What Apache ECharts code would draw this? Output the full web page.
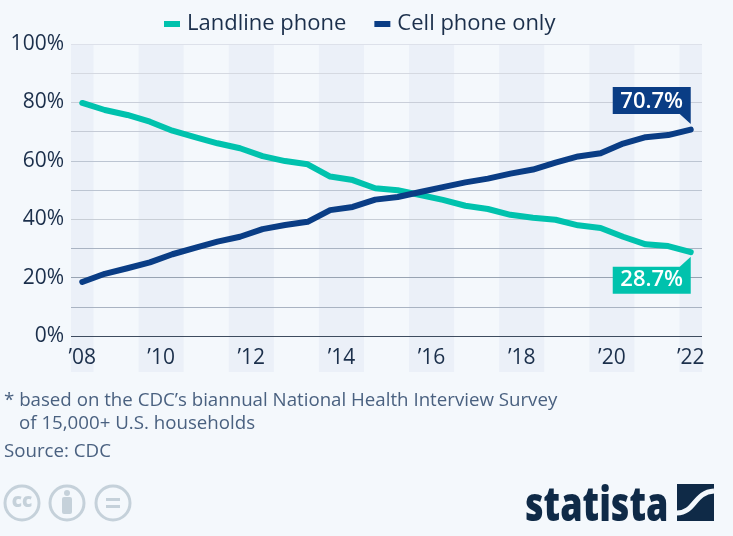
<!DOCTYPE html>
<html>
<head>
<meta charset="utf-8">
<style>
html, body { margin: 0; padding: 0; background: #f4f8fc; }
#chart { width: 733px; height: 536px; }
</style>
<script src="https://cdn.jsdelivr.net/npm/echarts@6/dist/echarts.min.js"></script>
</head>
<body>
<div id="chart"></div>
<script>
// half-year survey periods
var periods = [2008.25, 2008.75, 2009.25, 2009.75, 2010.25, 2010.75, 2011.25, 2011.75, 2012.25, 2012.75,
    2013.25, 2013.75, 2014.25, 2014.75, 2015.25, 2015.75, 2016.25, 2016.75, 2017.25, 2017.75,
    2018.25, 2018.75, 2019.25, 2019.75, 2020.25, 2020.75, 2021.25, 2021.75];
var landline = [79.8, 77.4, 75.7, 73.4, 70.3, 68.1, 66.0, 64.3, 61.6, 59.9,
    58.8, 54.6, 53.4, 50.6, 49.9, 48.3, 46.6, 44.6, 43.5, 41.5,
    40.5, 39.8, 37.9, 37.0, 34.0, 31.4, 30.8, 28.7];
var cellOnly = [18.5, 21.3, 23.2, 25.2, 28.0, 30.2, 32.3, 34.0, 36.6, 38.0,
    39.1, 43.1, 44.2, 46.7, 47.6, 49.3, 51.0, 52.6, 53.9, 55.6,
    57.0, 59.4, 61.5, 62.6, 65.9, 68.1, 68.8, 70.7];
var tickValues = [2008.25, 2010, 2012, 2014, 2016, 2018, 2020, 2021.75];
var tickLabels = ["\u201908", "\u201910", "\u201912", "\u201914", "\u201916", "\u201918", "\u201920", "\u201922"];
var bandStart = [2008, 2009.5, 2011.5, 2013.5, 2015.5, 2017.5, 2019.5, 2021.5];
var bandEnd = [2008.5, 2010.5, 2012.5, 2014.5, 2016.5, 2018.5, 2020.5, 2022];
var gridColors = ['#3e4c5f', '#a9b3c2', '#98a3b2', '#a9b3c2', '#c8ced6', '#bcc5d2', '#bcc5d2', '#c5cbd6', '#c9ced9', '#d5d9e1', '#dde1ea'];

var TEAL = '#00c2ad', NAVY = '#0a3d85', INK = '#1b2f4b', FOOT = '#4a6180', ICON = '#c5d1da', FONT = '"Open Sans"';

function zip(xs, ys) {
    return xs.map(function (x, i) { return [x, ys[i]]; });
}

// callout box with its little tail pointing at the last point
function callout(value, color, path, offsetY, labelY) {
    return {
        silent: true,
        animation: false,
        data: [{ coord: [periods[periods.length - 1], value] }],
        symbol: path,
        symbolKeepAspect: false,
        symbolSize: [78, 37],
        symbolOffset: [-39, offsetY],
        itemStyle: { color: color },
        label: {
            show: true,
            position: 'inside',
            offset: [0, labelY],
            formatter: value.toFixed(1) + '%',
            color: '#fff',
            fontFamily: FONT,
            fontSize: 22,
            fontWeight: 600
        }
    };
}

var myChart = echarts.init(document.getElementById('chart'));
myChart.setOption({
    animation: false,
    backgroundColor: '#f4f8fc',
    textStyle: { fontFamily: FONT },
    grid: { left: 71, right: 31, top: 44, height: 292, containLabel: false },
    legend: {
        left: 159,
        top: 8,
        itemWidth: 16,
        itemHeight: 6,
        itemGap: 28,
        icon: 'rect',
        selectedMode: false,
        textStyle: { fontFamily: FONT, fontSize: 22, color: INK, padding: [0, 0, 0, 2] },
        data: ['Landline phone', 'Cell phone only']
    },
    xAxis: {
        type: 'value',
        min: 2008,
        max: 2022,
        z: 1,
        splitLine: { show: false },
        axisLine: { show: false },
        axisTick: { show: false },
        axisLabel: {
            customValues: tickValues,
            margin: 12,
            fontFamily: FONT,
            fontSize: 21,
            color: INK,
            formatter: function (v) { return tickLabels[tickValues.indexOf(v)]; }
        }
    },
    yAxis: {
        type: 'value',
        min: 0,
        max: 100,
        interval: 10,
        z: 1,
        axisLine: { show: false },
        axisTick: { show: false },
        splitLine: { show: true, z: 1, lineStyle: { color: gridColors, width: 1.2 } },
        axisLabel: {
            margin: 7,
            fontFamily: FONT,
            fontSize: 21,
            color: INK,
            formatter: function (v) { return v % 20 === 0 ? v + '%' : ''; }
        }
    },
    series: [
        {
            // year bands run on below the axis, behind the tick labels
            type: 'custom',
            silent: true,
            z: -1,
            data: zip(bandStart, bandEnd),
            encode: { x: [0, 1] },
            renderItem: function (params, api) {
                var a = api.coord([api.value(0), 100]);
                var b = api.coord([api.value(1), 0]);
                return {
                    type: 'rect',
                    shape: { x: a[0], y: a[1], width: b[0] - a[0], height: b[1] - a[1] + 36 },
                    style: { fill: '#ebf0f8' }
                };
            }
        },
        {
            name: 'Landline phone',
            type: 'line',
            z: 3,
            data: zip(periods, landline),
            showSymbol: false,
            itemStyle: { color: TEAL },
            lineStyle: { color: TEAL, width: 6, cap: 'round', join: 'round' },
            markPoint: callout(landline[landline.length - 1], TEAL, 'path://M0 10H67L78 0V37H0Z', 23, 5)
        },
        {
            name: 'Cell phone only',
            type: 'line',
            z: 4,
            data: zip(periods, cellOnly),
            showSymbol: false,
            itemStyle: { color: NAVY },
            lineStyle: { color: NAVY, width: 6, cap: 'round', join: 'round' },
            markPoint: callout(cellOnly[cellOnly.length - 1], NAVY, 'path://M0 0H78V37L67 27H0Z', -24, -4)
        }
    ],
    graphic: [
        { type: 'text', x: 4, y: 391, style: { text: '* based on the CDC\u2019s biannual National Health Interview Survey', fontFamily: FONT, fontSize: 18.7, fill: FOOT } },
        { type: 'text', x: 19, y: 414, style: { text: 'of 15,000+ U.S. households', fontFamily: FONT, fontSize: 18.7, fill: FOOT } },
        { type: 'text', x: 4, y: 442, style: { text: 'Source: CDC', fontFamily: FONT, fontSize: 18.7, fill: FOOT } },

        // licence icons
        { type: 'circle', shape: { cx: 22, cy: 503, r: 17 }, style: { fill: 'none', stroke: ICON, lineWidth: 3 } },
        { type: 'text', x: 22, y: 502, style: { text: 'cc', fontFamily: FONT, fontSize: 19, fontWeight: 800, fill: ICON, align: 'center', verticalAlign: 'middle' } },
        { type: 'circle', shape: { cx: 67, cy: 503, r: 17 }, style: { fill: 'none', stroke: ICON, lineWidth: 3 } },
        { type: 'circle', shape: { cx: 67, cy: 493, r: 3 }, style: { fill: ICON } },
        { type: 'rect', shape: { x: 62, y: 497, width: 10, height: 17, r: 2 }, style: { fill: ICON } },
        { type: 'circle', shape: { cx: 113, cy: 503, r: 17 }, style: { fill: 'none', stroke: ICON, lineWidth: 3 } },
        { type: 'rect', shape: { x: 106, y: 498, width: 14, height: 3 }, style: { fill: ICON } },
        { type: 'rect', shape: { x: 106, y: 505, width: 14, height: 3 }, style: { fill: ICON } },

        // statista logo
        { type: 'text', x: 525, y: 531, scaleX: 0.75, style: { text: 'statista', fontFamily: FONT, fontSize: 48, fontWeight: 800, fill: '#0f2a47', verticalAlign: 'bottom' } },
        { type: 'rect', shape: { x: 677, y: 484, width: 37, height: 37 }, style: { fill: '#0f2a47' } },
        { type: 'bezierCurve', shape: { x1: 677, y1: 513, cpx1: 695, cpy1: 513, cpx2: 694, cpy2: 492, x2: 714, y2: 491 }, style: { fill: 'none', stroke: '#f4f8fc', lineWidth: 5 } }
    ]
});
</script>
</body>
</html>
